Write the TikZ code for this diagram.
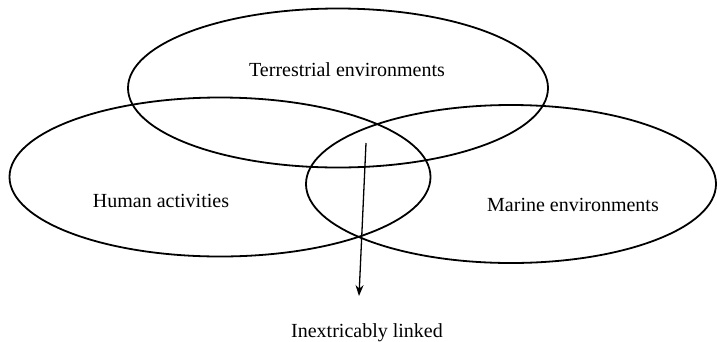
\documentclass[tikz,border=0pt]{standalone}
\usepackage{fontspec}
\setmainfont{Liberation Serif}
\usetikzlibrary{shapes.geometric,arrows.meta}
\begin{document}
\begin{tikzpicture}[
    x=1pt, y=-1pt,
    every node/.style={font=\fontsize{20}{24}\selectfont, align=center},
    ring/.style={ellipse, draw=black, line width=1.8pt, inner sep=0pt},
    arr/.style={-{Stealth[length=11pt,width=8pt]}, line width=1.3pt, black}
]
\useasboundingbox (0,0) rectangle (717,341);
\node[ring, minimum width=420pt, minimum height=159pt] (terr)   at (338,88)  {};
\node[ring, minimum width=421pt, minimum height=159pt] (human)  at (220,177) {};
\node[ring, minimum width=410pt, minimum height=158pt] (marine) at (511,184) {};
\node (terrlab)   at (347,70)  {Terrestrial environments};
\node (humanlab)  at (161,201) {Human activities};
\node (marinelab) at (573,205) {Marine environments};
\node (linked)    at (367,333) {Inextricably linked};
\coordinate (arrtop) at (366,143);
\coordinate (arrtip) at (359,296);
\draw[arr] (arrtop) -- (arrtip);
\end{tikzpicture}
\end{document}
